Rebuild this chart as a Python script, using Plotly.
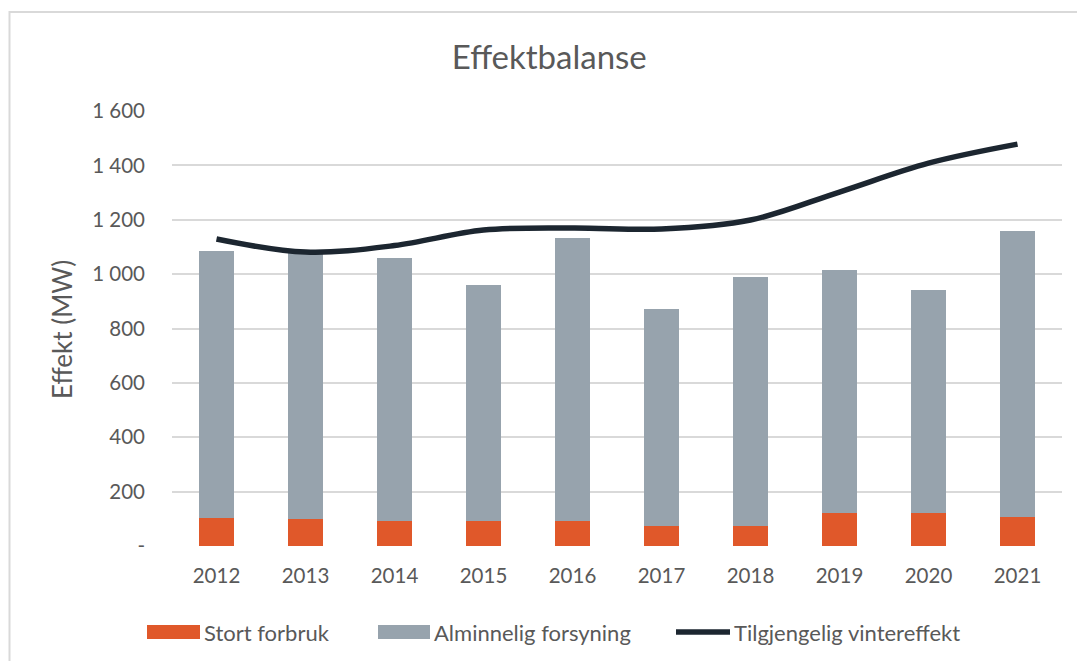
import plotly.graph_objects as go

# Effektbalanse: stacked demand bars and available winter capacity line (MW)
years = ["2012", "2013", "2014", "2015", "2016", "2017", "2018", "2019", "2020", "2021"]
stort_forbruk = [104, 98, 93, 93, 93, 75, 75, 122, 122, 108]
total_forbruk = [1085, 1078, 1059, 960, 1133, 872, 989, 1015, 941, 1158]
alminnelig_forsyning = [t - s for t, s in zip(total_forbruk, stort_forbruk)]
vintereffekt = [1129, 1081, 1105, 1162, 1170, 1166, 1199, 1302, 1408, 1478]

y_ticks = [0, 200, 400, 600, 800, 1000, 1200, 1400, 1600]
y_ticktext = ["-", "200", "400", "600", "800", "1 000", "1 200", "1 400", "1 600"]

ORANGE = "#E0582A"
GREY = "#97A3AD"
DARK = "#1C2630"
TEXT = "#595959"
FONT = "Lato"

fig = go.Figure()
fig.add_trace(go.Bar(x=years, y=stort_forbruk, name="Stort forbruk",
                     marker=dict(color=ORANGE, line=dict(width=0))))
fig.add_trace(go.Bar(x=years, y=alminnelig_forsyning, name="Alminnelig forsyning",
                     marker=dict(color=GREY, line=dict(width=0))))
fig.add_trace(go.Scatter(x=years, y=vintereffekt, name="Tilgjengelig vintereffekt",
                         mode="lines",
                         line=dict(color=DARK, width=5.5, shape="spline", smoothing=1.0)))

W, H = 1077, 661
L, R, T, B = 172, 15, 111, 115
pw, ph = W - L - R, H - T - B


def px(x):
    return (x - L) / pw


def py(y):
    return (H - B - y) / ph


shapes = [
    # outer chart frame
    dict(type="rect", xref="paper", yref="paper",
         x0=px(9.5), x1=px(1085), y0=py(670), y1=py(12),
         line=dict(color="#D9D9D9", width=2), fillcolor="rgba(0,0,0,0)", layer="below"),
]
annotations = [
    dict(text="Effekt (MW)", xref="paper", yref="paper", x=px(62), y=py(330),
         textangle=-90, showarrow=False, font=dict(family=FONT, size=26, color=TEXT),
         xanchor="center", yanchor="middle"),
]

# legend row
legend_y = 632
legend_items = [
    ("bar", ORANGE, 147, 200, "Stort forbruk"),
    ("bar", GREY, 378, 430, "Alminnelig forsyning"),
    ("line", DARK, 676, 730, "Tilgjengelig vintereffekt"),
]
for kind, color, x0, x1, label in legend_items:
    if kind == "bar":
        shapes.append(dict(type="rect", xref="paper", yref="paper",
                           x0=px(x0), x1=px(x1), y0=py(legend_y + 7), y1=py(legend_y - 7),
                           line=dict(width=0), fillcolor=color))
    else:
        shapes.append(dict(type="line", xref="paper", yref="paper",
                           x0=px(x0), x1=px(x1), y0=py(legend_y), y1=py(legend_y),
                           line=dict(color=color, width=5.5)))
    annotations.append(dict(text=label, xref="paper", yref="paper", x=px(x1 + 2),
                            y=py(legend_y), xanchor="left", yanchor="middle",
                            showarrow=False, font=dict(family=FONT, size=22, color=TEXT)))

fig.update_layout(
    width=W, height=H,
    margin=dict(l=L, r=R, t=T, b=B, autoexpand=False),
    paper_bgcolor="white", plot_bgcolor="white",
    barmode="stack", bargap=0.61,
    showlegend=False,
    title=dict(text="Effektbalanse", x=0.51, xanchor="center",
               y=1 - 57 / H, yanchor="middle", yref="container",
               font=dict(family=FONT, size=33, color=TEXT)),
    font=dict(family=FONT, color=TEXT),
    xaxis=dict(type="category", showgrid=False, zeroline=False, showline=False,
               ticks="", tickfont=dict(family=FONT, size=20.5, color=TEXT),
               ticklabelstandoff=15),
    yaxis=dict(range=[0, 1600], tickvals=y_ticks, ticktext=y_ticktext,
               showgrid=True, gridcolor="#D9D9D9", gridwidth=1.5,
               zeroline=False, showline=False, ticks="",
               tickfont=dict(family=FONT, size=20.5, color=TEXT),
               ticklabelstandoff=26),
    shapes=shapes,
    annotations=annotations,
)

fig.write_html("out.html")
